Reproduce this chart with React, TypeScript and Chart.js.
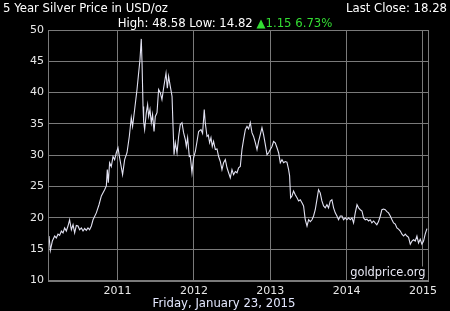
import React, { useEffect, useRef } from "react";
import { Chart, registerables } from "chart.js";

Chart.register(...registerables);

const dates: number[] = [
  2010.101, 2010.119, 2010.145, 2010.175, 2010.197, 2010.219, 2010.240, 2010.263, 2010.285, 2010.306,
  2010.328, 2010.350, 2010.371, 2010.394, 2010.416, 2010.437, 2010.459, 2010.481, 2010.502, 2010.525,
  2010.547, 2010.568, 2010.590, 2010.612, 2010.633, 2010.656, 2010.678, 2010.721, 2010.756, 2010.787,
  2010.809, 2010.830, 2010.852, 2010.865, 2010.878, 2010.895, 2010.917, 2010.940, 2010.961, 2010.983,
  2011.005, 2011.026, 2011.035, 2011.065, 2011.092, 2011.123, 2011.153, 2011.179, 2011.196, 2011.223,
  2011.254, 2011.275, 2011.293, 2011.310, 2011.320, 2011.333, 2011.341, 2011.354, 2011.376, 2011.393,
  2011.406, 2011.424, 2011.441, 2011.458, 2011.477, 2011.494, 2011.516, 2011.537, 2011.559, 2011.581,
  2011.602, 2011.634, 2011.651, 2011.668, 2011.690, 2011.713, 2011.726, 2011.739, 2011.756, 2011.778,
  2011.799, 2011.821, 2011.843, 2011.864, 2011.887, 2011.900, 2011.917, 2011.939, 2011.952, 2011.974,
  2011.995, 2012.018, 2012.040, 2012.061, 2012.092, 2012.113, 2012.135, 2012.148, 2012.171, 2012.188,
  2012.205, 2012.223, 2012.240, 2012.257, 2012.280, 2012.302, 2012.323, 2012.345, 2012.367, 2012.388,
  2012.411, 2012.433, 2012.454, 2012.476, 2012.498, 2012.519, 2012.542, 2012.564, 2012.585, 2012.607,
  2012.629, 2012.650, 2012.673, 2012.695, 2012.716, 2012.738, 2012.760, 2012.781, 2012.804, 2012.826,
  2012.847, 2012.869, 2012.891, 2012.912, 2012.935, 2012.957, 2012.978, 2013.000, 2013.022, 2013.043,
  2013.065, 2013.088, 2013.109, 2013.131, 2013.153, 2013.174, 2013.196, 2013.218, 2013.240, 2013.253,
  2013.266, 2013.284, 2013.305, 2013.327, 2013.350, 2013.371, 2013.393, 2013.415, 2013.436, 2013.458,
  2013.481, 2013.502, 2013.524, 2013.546, 2013.567, 2013.589, 2013.611, 2013.632, 2013.654, 2013.676,
  2013.698, 2013.720, 2013.742, 2013.763, 2013.786, 2013.807, 2013.829, 2013.851, 2013.873, 2013.894,
  2013.917, 2013.939, 2013.960, 2013.982, 2014.004, 2014.026, 2014.048, 2014.070, 2014.091, 2014.113,
  2014.136, 2014.157, 2014.179, 2014.201, 2014.222, 2014.244, 2014.266, 2014.287, 2014.309, 2014.331,
  2014.353, 2014.374, 2014.396, 2014.418, 2014.441, 2014.462, 2014.484, 2014.506, 2014.528, 2014.549,
  2014.572, 2014.594, 2014.615, 2014.637, 2014.659, 2014.680, 2014.703, 2014.725, 2014.746, 2014.768,
  2014.790, 2014.811, 2014.834, 2014.856, 2014.877, 2014.899, 2014.921, 2014.942, 2014.964, 2014.986,
  2015.008, 2015.029, 2015.052,
];

// Silver price, USD/oz
const prices: number[] = [
  17.1, 14.82, 16.3, 17.1, 16.8, 17.4, 17.2, 17.9, 17.6, 18.4,
  17.9, 18.7, 19.7, 18.1, 18.9, 17.6, 18.8, 18.7, 18.1, 18.4,
  17.9, 18.3, 18.0, 18.4, 18.1, 18.7, 19.7, 20.8, 22.1, 23.5,
  24.0, 24.5, 25.1, 27.7, 25.6, 28.8, 28.2, 29.8, 29.3, 30.4,
  31.2, 29.6, 29.0, 26.9, 29.3, 30.4, 33.0, 36.0, 34.6, 37.3,
  40.5, 43.1, 45.3, 48.58, 44.7, 37.8, 35.4, 34.1, 36.8, 38.1,
  36.2, 37.3, 35.2, 36.5, 33.8, 36.2, 36.8, 40.5, 40.0, 38.9,
  40.7, 43.1, 40.7, 42.6, 41.0, 39.4, 34.6, 30.1, 32.0, 30.4,
  33.0, 34.9, 35.2, 33.6, 32.5, 31.4, 32.8, 29.8, 29.9, 27.2,
  29.6, 30.6, 32.2, 33.8, 34.1, 33.5, 37.3, 35.2, 33.0, 33.2,
  32.0, 32.8, 31.4, 32.2, 30.9, 31.0, 29.8, 29.0, 27.7, 28.8,
  29.3, 28.0, 27.2, 26.4, 27.7, 26.9, 27.4, 27.2, 28.0, 28.2,
  30.9, 32.5, 34.1, 34.6, 34.2, 35.2, 33.6, 33.0, 32.0, 30.9,
  32.2, 33.3, 34.4, 33.3, 31.7, 30.1, 30.4, 30.9, 31.4, 32.2,
  32.0, 31.2, 30.4, 28.8, 29.3, 28.8, 29.0, 28.9, 27.7, 26.7,
  23.2, 23.5, 24.3, 23.7, 23.2, 22.7, 22.9, 22.4, 21.9, 19.7,
  18.7, 19.7, 19.4, 19.7, 20.3, 21.3, 22.9, 24.5, 24.0, 22.7,
  21.9, 21.6, 22.1, 21.6, 22.7, 22.9, 21.6, 20.8, 20.3, 19.7,
  20.3, 20.3, 19.7, 20.0, 19.7, 20.0, 19.7, 20.0, 19.2, 20.8,
  22.1, 21.6, 21.3, 21.1, 20.0, 19.7, 19.8, 19.5, 19.7, 19.2,
  19.5, 19.2, 18.9, 19.4, 20.3, 21.3, 21.4, 21.3, 21.0, 20.8,
  20.3, 19.7, 19.2, 19.0, 18.4, 18.2, 17.9, 17.4, 17.1, 17.4,
  17.1, 16.9, 15.8, 16.3, 16.5, 16.3, 17.1, 16.0, 16.6, 15.8,
  16.3, 17.4, 18.28,
];

const yearTicks: number[] = [2011, 2012, 2013, 2014, 2015];
const yTicks: number[] = [10, 15, 20, 25, 30, 35, 40, 45, 50];

const titleText = "5 Year Silver Price in USD/oz";
const lastCloseText = "Last Close: 18.28";
const statsText = "High: 48.58 Low: 14.82 ";
const changeText = "\u25B21.15 6.73%";
const dateText = "Friday, January 23, 2015";
const watermarkText = "goldprice.org";

const FONT = '"DejaVu Sans", Verdana, sans-serif';
const GRID = "#7a7a7a";
const TEXT = "#e8e8e8";

export default function App() {
  const ref = useRef<HTMLCanvasElement | null>(null);

  useEffect(() => {
    document.body.style.margin = "0";
    document.body.style.background = "#000";
    const canvas = ref.current;
    if (!canvas) return;

    const decor = {
      id: "decor",
      beforeDraw(chart: any) {
        const ctx = chart.ctx;
        ctx.save();
        ctx.fillStyle = "#000";
        ctx.fillRect(0, 0, chart.width, chart.height);
        ctx.restore();
      },
      afterDraw(chart: any) {
        const ctx = chart.ctx;
        const a = chart.chartArea;
        ctx.save();
        // frame
        ctx.strokeStyle = GRID;
        ctx.lineWidth = 1;
        ctx.strokeRect(Math.round(a.left) + 0.5, Math.round(a.top) + 0.5, Math.round(a.right - a.left), Math.round(a.bottom - a.top));

        ctx.font = "11.7px " + FONT;
        ctx.textBaseline = "alphabetic";
        ctx.fillStyle = "#ffffff";
        ctx.textAlign = "left";
        ctx.fillText(titleText, 3, 12);
        ctx.textAlign = "right";
        ctx.fillText(lastCloseText, 447, 12);

        // stats row, centred
        const w1 = ctx.measureText(statsText).width;
        const w2 = ctx.measureText(changeText).width;
        const start = 225 - (w1 + w2) / 2;
        ctx.textAlign = "left";
        ctx.fillStyle = "#ffffff";
        ctx.fillText(statsText, start, 26.5);
        ctx.fillStyle = "#33dd33";
        ctx.fillText(changeText, start + w1, 26.5);

        // date
        ctx.textAlign = "center";
        ctx.fillStyle = "#e4e8ff";
        ctx.fillText(dateText, 224, 307);

        // watermark
        ctx.font = "11.4px " + FONT;
        const ww = ctx.measureText(watermarkText).width;
        ctx.fillStyle = "#000";
        ctx.fillRect(a.right - ww - 4, a.bottom - 14, ww + 3, 13);
        ctx.textAlign = "right";
        ctx.fillStyle = "#e8e8f4";
        ctx.fillText(watermarkText, a.right - 2.5, a.bottom - 5);
        ctx.restore();
      },
    };

    const chart = new Chart(canvas, {
      type: "line",
      data: {
        datasets: [
          {
            data: dates.map((d, i) => ({ x: d, y: prices[i] })),
            borderColor: "#e2e2f2",
            borderWidth: 1.1,
            pointRadius: 0,
            tension: 0,
            fill: false,
          },
        ],
      },
      options: {
        responsive: false,
        animation: false,
        events: [],
        layout: { padding: { top: 30, right: 22, bottom: 0, left: 0 } },
        plugins: { legend: { display: false }, tooltip: { enabled: false }, title: { display: false } },
        scales: {
          x: {
            type: "linear",
            min: 2010.088,
            max: 2015.066,
            afterBuildTicks: (s: any) => {
              s.ticks = yearTicks.map((v) => ({ value: v }));
            },
            afterFit: (s: any) => {
              s.height = 30.5;
            },
            ticks: {
              color: TEXT,
              font: { family: FONT, size: 11 },
              padding: 4,
              maxRotation: 0,
              autoSkip: false,
              callback: (v: any) => String(v),
            },
            grid: { color: GRID, drawTicks: false, lineWidth: 1 },
            border: { color: GRID },
          },
          y: {
            min: 10,
            max: 50,
            afterBuildTicks: (s: any) => {
              s.ticks = yTicks.map((v) => ({ value: v }));
            },
            afterFit: (s: any) => {
              s.width = 48;
            },
            ticks: {
              color: TEXT,
              font: { family: FONT, size: 11 },
              padding: 4,
              callback: (v: any) => String(v),
            },
            grid: { color: GRID, drawTicks: false, lineWidth: 1 },
            border: { color: GRID },
          },
        },
      },
      plugins: [decor],
    } as any);

    return () => chart.destroy();
  }, []);

  return (
    <div style={{ position: "absolute", left: 0, top: 0, width: 450, height: 311, background: "#000" }}>
      <canvas ref={ref} width={450} height={311} style={{ display: "block", width: 450, height: 311 }} />
    </div>
  );
}
